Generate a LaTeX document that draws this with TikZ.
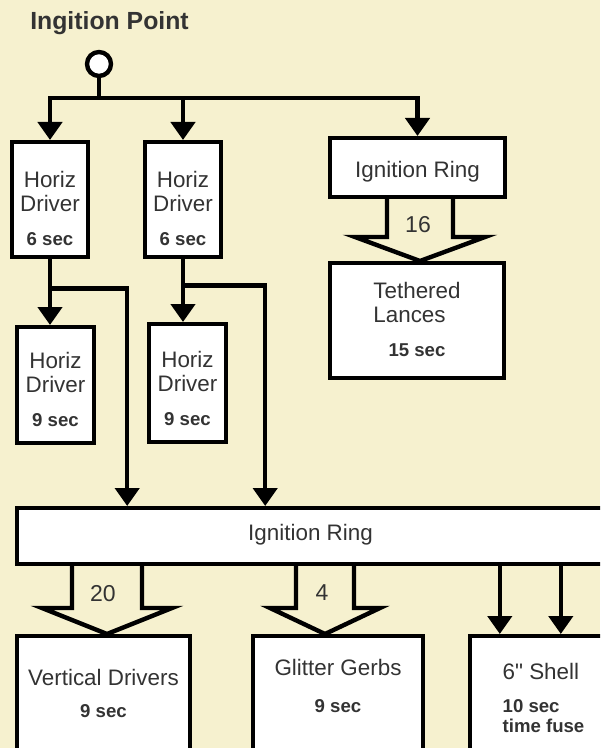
\documentclass[tikz,border=0pt]{standalone}
\usepackage{fontspec}
\setmainfont{Liberation Sans}[Ligatures=TeXOff]
\usetikzlibrary{arrows.meta, calc}
\definecolor{paper}{HTML}{F6F1CF}
\definecolor{ink}{HTML}{333333}
\newcommand{\secfont}{\fontsize{9.3}{12}\selectfont\bfseries}

\begin{document}
\begin{tikzpicture}[x=0.5pt, y=-0.5pt,
    box/.style={draw, line width=2.2pt, fill=white, text=ink, inner sep=0pt,
      anchor=north, align=center, font=\fontsize{11.2}{12}\selectfont},
    wire/.style={line width=2.2pt},
    hollow/.style={line width=2.2pt, line join=miter},
    count/.style={text=ink, font=\fontsize{11.5}{12}\selectfont},
    >={Triangle[width=12pt, length=9pt]}
  ]
  \useasboundingbox (0,0) rectangle (600,748);
  \fill[paper] (0,0) rectangle (600,748);
  \clip (0,0) rectangle (600,748);

  % ignition point
  \node[anchor=base, text=ink, font=\fontsize{12.4}{14}\selectfont\bfseries]
    (title) at (109.5,30) {Ingition Point};
  \node[draw, circle, line width=2.2pt, fill=white, minimum size=12pt,
    inner sep=0pt] (ign) at (99,64) {};

  % first row
  \node[box, minimum width=38pt] (h1) at (50,140)
    {\rule{0pt}{22.5pt}Horiz\\Driver\\[5pt]\secfont 6 sec\rule[-6pt]{0pt}{0pt}};
  \node[box, minimum width=38pt] (h2) at (183,140)
    {\rule{0pt}{22.5pt}Horiz\\Driver\\[5pt]\secfont 6 sec\rule[-6pt]{0pt}{0pt}};
  \node[box, minimum width=87.5pt, text height=19.5pt, text depth=10pt]
    (ringA) at (417.5,136) {Ignition Ring};
  \node[box, align=left, minimum width=87pt] (lances) at (417,261)
    {\rule{0pt}{17.5pt}Tethered\\Lances\\[5pt]\hfil\secfont 15 sec\rule[-11pt]{0pt}{0pt}};

  % second row
  \node[box, minimum width=38.5pt] (h1b) at (55.5,325)
    {\rule{0pt}{20.5pt}Horiz\\Driver\\[5pt]\secfont 9 sec\rule[-8.5pt]{0pt}{0pt}};
  \node[box, minimum width=38.5pt] (h2b) at (187.5,322)
    {\rule{0pt}{21.5pt}Horiz\\Driver\\[5pt]\secfont 9 sec\rule[-8.5pt]{0pt}{0pt}};

  % main ring and effects
  \node[box, minimum width=293.5pt, text height=16pt, text depth=12pt]
    (ring) at (310.5,506) {Ignition Ring};
  \node[box, minimum width=86.5pt] (vdrv) at (103.5,634)
    {\rule{0pt}{24.5pt}Vertical Drivers\\[4pt]\secfont 9 sec\rule[-30pt]{0pt}{0pt}};
  \node[box, minimum width=85pt] (gerbs) at (338,634)
    {\rule{0pt}{19.5pt}Glitter Gerbs\\[6.5pt]\secfont 9 sec\rule[-30pt]{0pt}{0pt}};
  \node[box, align=left, minimum width=86.5pt] (shell) at (556.5,634)
    {\rule{0pt}{21.5pt}6" Shell\\[4.5pt]\secfont 10 sec\\[-2pt]\secfont time fuse\hspace{13pt}\rule[-30pt]{0pt}{0pt}};

  % fuse lines
  \draw[wire] (ign.south) -- ++(0,20) coordinate (fork);
  \draw[wire, ->] (fork) -| (h1.north);
  \draw[wire, ->] (fork) -| (h2.north);
  \draw[wire, ->] (fork) -| (ringA.north);

  \draw[wire, ->] (h1.south) -- (h1.south |- h1b.north);
  \draw[wire, ->] (h1.south) -- ++(0,29) -| ([xshift=15.5pt]h1b.east |- ring.north);
  \draw[wire, ->] (h2.south) -- (h2.south |- h2b.north);
  \draw[wire, ->] (h2.south) -- ++(0,26) -| ([xshift=18.5pt]h2b.east |- ring.north);

  \draw[wire, ->] ([xshift=16pt]shell.north west |- ring.south) -- ([xshift=16pt]shell.north west);
  \draw[wire, ->] ([xshift=46.5pt]shell.north west |- ring.south) -- ([xshift=46.5pt]shell.north west);

  % bundled fuses
  \coordinate (t16) at ([xshift=1.5pt]lances.north);
  \coordinate (t20) at ([xshift=1.75pt]vdrv.north);
  \coordinate (t4) at ([xshift=-6.5pt]gerbs.north);
  \draw[hollow] ($(t16 |- ringA.south)+(-33,-2)$) -- ($(t16)+(-33,-24)$) -- ($(t16)+(-65,-24)$)
    -- (t16) -- ($(t16)+(65,-24)$) -- ($(t16)+(33,-24)$) -- ($(t16 |- ringA.south)+(33,-2)$);
  \draw[hollow] ($(t20 |- ring.south)+(-35,-2)$) -- ($(t20)+(-35,-26)$) -- ($(t20)+(-65,-26)$)
    -- (t20) -- ($(t20)+(65,-26)$) -- ($(t20)+(35,-26)$) -- ($(t20 |- ring.south)+(35,-2)$);
  \draw[hollow] ($(t4 |- ring.south)+(-29,-2)$) -- ($(t4)+(-29,-26)$) -- ($(t4)+(-55,-26)$)
    -- (t4) -- ($(t4)+(55,-26)$) -- ($(t4)+(29,-26)$) -- ($(t4 |- ring.south)+(29,-2)$);
  \node[count] (n16) at ($(t16)+(-2,-36)$) {16};
  \node[count] (n20) at ($(t20)+(-4,-40)$) {20};
  \node[count] (n4) at ($(t4)+(-3,-41)$) {4};
\end{tikzpicture}
\end{document}
